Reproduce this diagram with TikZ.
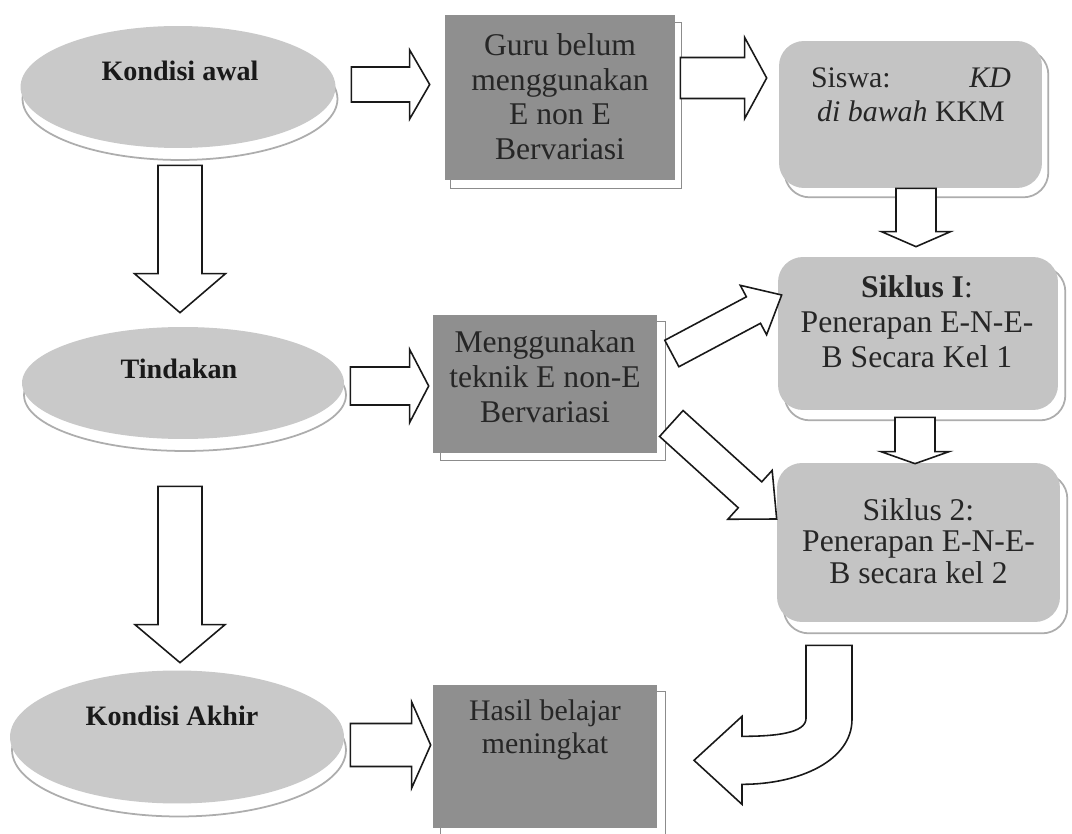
\documentclass[tikz,border=0pt]{standalone}
\usepackage{fontspec}
\setmainfont{Liberation Serif}
\usetikzlibrary{calc,shapes.geometric,backgrounds}

\newcommand\blockarrow[5]{%
  \pgfmathsetlengthmacro\bas{#3*0.02cm}%
  \pgfmathsetlengthmacro\bah{#4*0.02cm}%
  \pgfmathsetlengthmacro\bal{#5*0.02cm}%
  \coordinate (ba-h) at ($(#2)!\bal!(#1)$);%
  \draw[barrow] ($(#1)!\bas!90:(#2)$) -- ($(ba-h)!\bas!-90:(#1)$) -- ($(ba-h)!\bah!-90:(#1)$) -- (#2) -- ($(ba-h)!\bah!90:(#1)$) -- ($(ba-h)!\bas!90:(#1)$) -- ($(#1)!\bas!-90:(#2)$) -- cycle;%
}

\tikzset{
  ov/.style={ellipse, fill=black!21, draw=none, inner sep=0pt},
  ovshadow/.style={fill=white, draw=black!32, line width=1pt},
  darkbox/.style={rectangle, fill=black!44, draw=none, inner sep=0pt},
  darkshadow/.style={draw=black!45, line width=0.6pt},
  lightbox/.style={rectangle, rounded corners=0.5cm, fill=black!23, draw=none, inner sep=0pt},
  lightshadow/.style={rounded corners=0.5cm, fill=white, draw=black!32, line width=1pt},
  barrow/.style={draw=black!90, fill=white, line width=0.9pt, line join=miter},
  ovtext/.style={anchor=base, text=black!90, font=\fontsize{16}{18}\selectfont\bfseries},
  boxtext/.style={align=center, text=black!85, inner sep=0pt, font=\fontsize{18}{19.9}\selectfont},
  smalltext/.style={align=center, text=black!85, inner sep=0pt, font=\fontsize{17}{19}\selectfont},
}

\begin{document}
\begin{tikzpicture}[x=0.02cm, y=-0.02cm]
\useasboundingbox (0,0) rectangle (1072,834);

% ---- shapes ----
\node[ov, minimum width=6.3cm, minimum height=2.44cm] (e1) at (178,87) {};
\node[ov, minimum width=6.44cm, minimum height=2.24cm] (e2) at (183,383) {};
\node[ov, minimum width=6.68cm, minimum height=2.66cm] (e3) at (177,737) {};

\node[darkbox, minimum width=4.6cm, minimum height=3.3cm] (b1) at (560,97.5) {};
\node[darkbox, minimum width=4.48cm, minimum height=2.76cm] (m) at (545,384) {};
\node[darkbox, minimum width=4.48cm, minimum height=2.86cm] (h) at (545,756.5) {};

\node[lightbox, minimum width=5.26cm, minimum height=2.94cm] (sw) at (910.5,114.5) {};
\node[lightbox, minimum width=5.6cm, minimum height=3.06cm] (s1) at (918,333.5) {};
\node[lightbox, minimum width=5.66cm, minimum height=3.18cm] (s2) at (918.5,542.5) {};

% ---- texts ----
\node[ovtext] (te1) at ($(e1.center)+(2,-6)$) {Kondisi awal};
\node[ovtext] (te2) at ($(e2.center)+(-4,-4)$) {Tindakan};
\node[ovtext] (te3) at ($(e3.center)+(-5,-12)$) {Kondisi Akhir};

\node[boxtext] (tb1) at ($(b1.center)+(0,-0.8)$) {Guru belum\\menggunakan\\E non E\\Bervariasi};
\node[boxtext] (tm) at ($(m.center)+(0,-7)$) {Menggunakan\\teknik E non-E\\Bervariasi};
\node[smalltext, font=\fontsize{17}{18.8}\selectfont] (th) at ($(h.center)+(0,-27)$) {Hasil belajar\\meningkat};

\node[smalltext, font=\fontsize{17}{19.4}\selectfont] (tsw) at ($(sw.center)+(0.5,-19.5)$) {\makebox[4cm][s]{Siswa:\hfill\textit{KD}}\\\textit{di bawah} KKM};
\node[boxtext] (ts1) at ($(s1.center)+(-1,-11.5)$) {\textbf{Siklus I}:\\Penerapan E-N-E-\\B Secara Kel 1};
\node[boxtext, font=\fontsize{18}{17.9}\selectfont] (ts2) at ($(s2.center)+(0,-1.5)$) {Siklus 2:\\Penerapan E-N-E-\\B secara kel 2};

% ---- shadows ----
\begin{pgfonlayer}{background}
  \fill[white] (0,0) rectangle (1072,834);
  \draw[ovshadow] ($(e1.center)+(2,12)$) ellipse [x radius=3.15cm, y radius=1.22cm];
  \draw[ovshadow] ($(e2.center)+(2,12)$) ellipse [x radius=3.22cm, y radius=1.12cm];
  \draw[ovshadow] ($(e3.center)+(2,13)$) ellipse [x radius=3.34cm, y radius=1.33cm];
  \draw[darkshadow] ($(b1.north west)+(6,8)$) rectangle ($(b1.south east)+(6,8)$);
  \draw[darkshadow] ($(m.north west)+(8,7)$) rectangle ($(m.south east)+(8,7)$);
  \draw[darkshadow] ($(h.north west)+(8,7)$) rectangle ($(h.south east)+(8,7)$);
  \draw[lightshadow] ($(sw.north west)+(6,9)$) rectangle ($(sw.south east)+(6,9)$);
  \draw[lightshadow] ($(s1.north west)+(7,10)$) rectangle ($(s1.south east)+(7,10)$);
  \draw[lightshadow] ($(s2.north west)+(7,11)$) rectangle ($(s2.south east)+(7,11)$);
\end{pgfonlayer}

% ---- connectors ----
\coordinate (a1s) at ($(e1.east)+(15.5,-2.5)$);
\coordinate (a1t) at ($(b1.west)+(-15,-13)$);
\blockarrow{a1s}{a1t}{17.5}{34.5}{20}

\coordinate (a2s) at ($(b1.east)+(5,-19.5)$);
\coordinate (a2t) at ($(sw.west)+(-12,-36.5)$);
\blockarrow{a2s}{a2t}{20.5}{40.5}{22}

\coordinate (a3s) at ($(sw.south)+(5.5,0)$);
\coordinate (a3t) at ($(s1.north)+(-2,-10)$);
\blockarrow{a3s}{a3t}{20}{34.5}{15}

\coordinate (a4s) at ($(s1.south)+(-3,7)$);
\coordinate (a4t) at ($(s2.north)+(-3.5,1)$);
\blockarrow{a4s}{a4t}{20}{34}{12}

\coordinate (a5s) at ($(e1.south)+(2,17)$);
\coordinate (a5t) at ($(e2.north)+(-3,-14)$);
\blockarrow{a5s}{a5t}{22}{45.5}{39}

\coordinate (a6s) at ($(e2.south)+(-3,47)$);
\coordinate (a6t) at ($(e3.north)+(3,-7.5)$);
\blockarrow{a6s}{a6t}{22}{45}{38}

\coordinate (a7s) at ($(e2.east)+(6,3)$);
\coordinate (a7t) at ($(m.west)+(-4,2)$);
\blockarrow{a7s}{a7t}{19}{36.5}{19}

\coordinate (a8s) at ($(e3.east)+(6,8)$);
\coordinate (a8t) at ($(h.west)+(-2,-11.5)$);
\blockarrow{a8s}{a8t}{21.5}{43}{19}

\coordinate (a9s) at ($(m.east)+(14.5,-30.5)$);
\coordinate (a9t) at ($(s1.west)+(4,-38.5)$);
\blockarrow{a9s}{a9t}{15}{28}{32}

\coordinate (a10s) at ($(m.east)+(14,39.5)$);
\coordinate (a10t) at ($(s2.west)+(0,-23.5)$);
\blockarrow{a10s}{a10t}{17.5}{33}{36}

% curved arrow from Siklus 2 to Hasil
\coordinate (c0) at ($(s2.south)+(-89.5,23)$);
\begin{scope}[shift={(c0)}]
  \draw[barrow] (-23,0) -- (23,0) -- (23,74) .. controls (23,115) and (-29,139) .. (-87,139) -- (-87,159) -- (-135,115) -- (-87,71) -- (-87,91) .. controls (-54,91) and (-23,88) .. (-23,73) -- cycle;
\end{scope}
\end{tikzpicture}
\end{document}
